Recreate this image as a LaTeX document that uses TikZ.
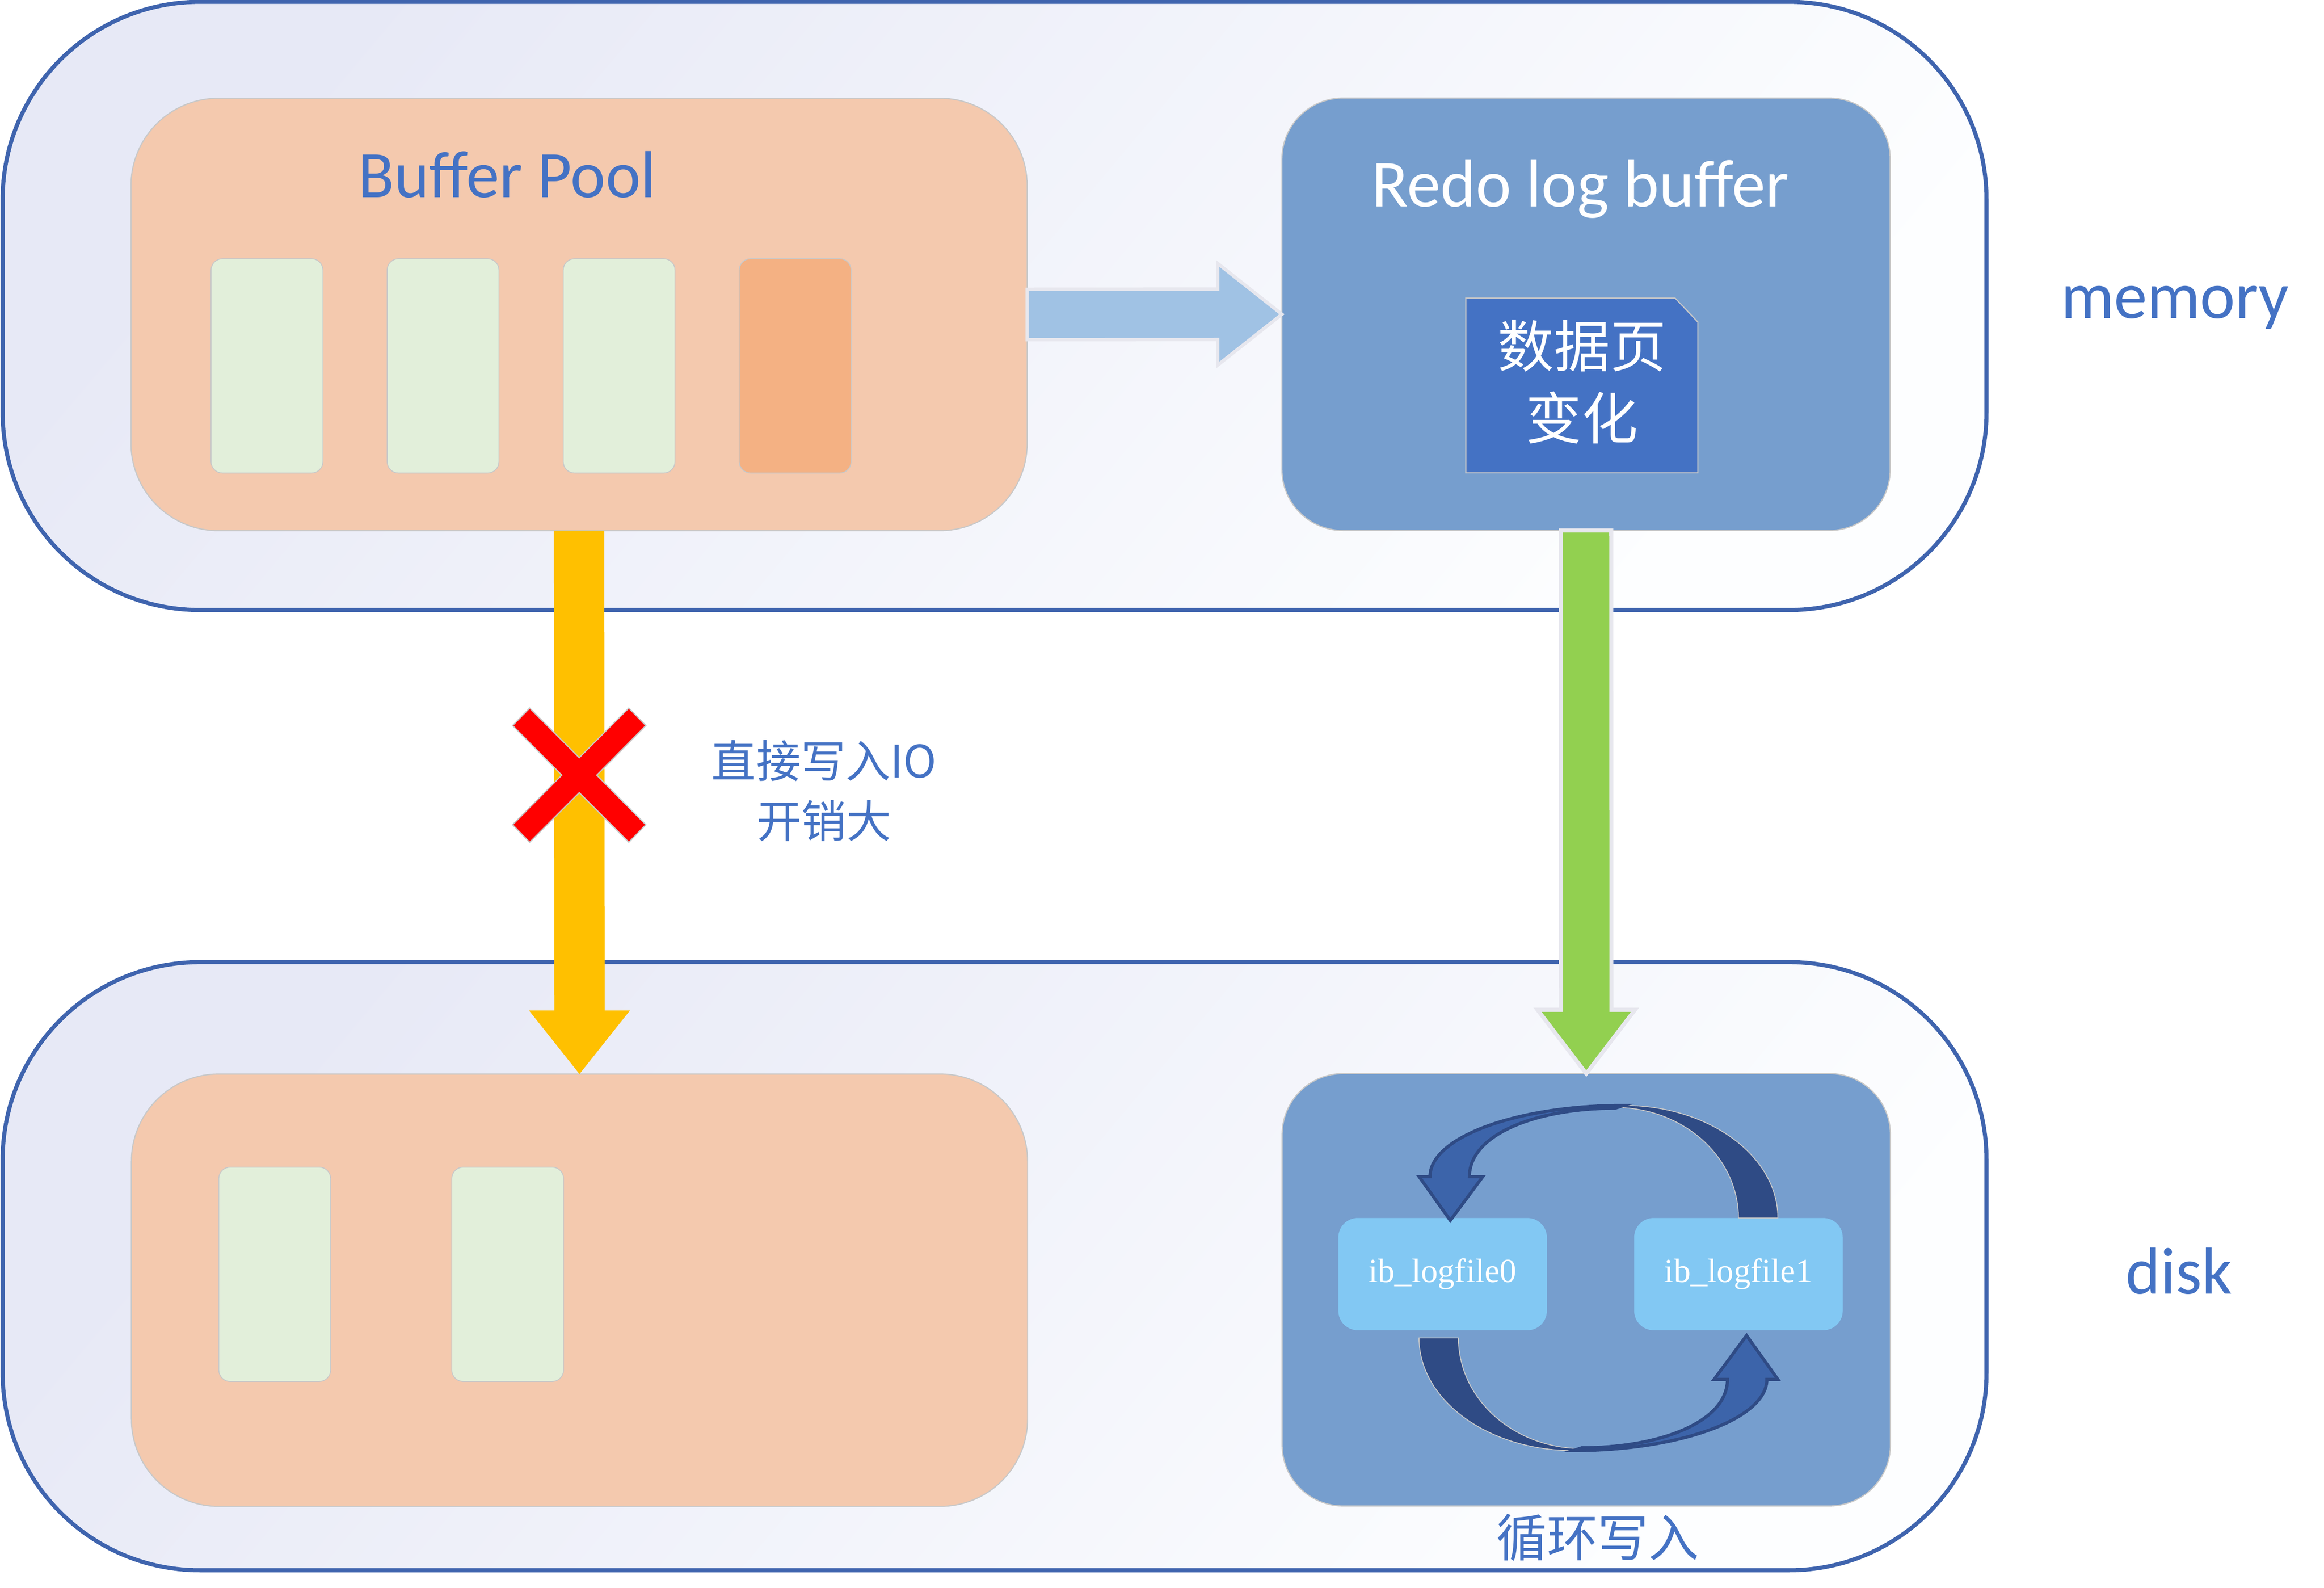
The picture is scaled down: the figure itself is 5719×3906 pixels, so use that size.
\documentclass[tikz,border=0pt]{standalone}
\usepackage{fontspec}
\setmainfont{Carlito}
\newfontfamily\cjkfont{Noto Sans CJK SC}
\newfontfamily\serffont{Liberation Serif}
\usetikzlibrary{calc}
\usetikzlibrary{positioning}

\definecolor{lineblue}{RGB}{63,100,174}
\definecolor{textblue}{RGB}{68,114,196}
\definecolor{peach}{RGB}{244,201,174}
\definecolor{pagegreen}{RGB}{226,239,218}
\definecolor{pageorange}{RGB}{244,177,131}
\definecolor{redoblue}{RGB}{118,158,206}
\definecolor{changeblue}{RGB}{68,114,196}
\definecolor{arrowblue}{RGB}{160,194,228}
\definecolor{arrowedge}{RGB}{231,231,238}
\definecolor{boxedge}{RGB}{200,200,200}
\definecolor{ioyellow}{RGB}{255,192,0}
\definecolor{loggreen}{RGB}{146,208,80}
\definecolor{fileblue}{RGB}{130,200,243}
\definecolor{loopdark}{RGB}{47,75,133}
\definecolor{looplight}{RGB}{60,100,170}
\definecolor{shadetop}{RGB}{231,233,246}
\definecolor{shadebot}{RGB}{253,254,255}

\begin{document}
\begin{tikzpicture}[x=0.01cm, y=-0.01cm, inner sep=0pt, outer sep=0pt]
    \tikzstyle{area}=[draw=lineblue, line width=2.85pt, rounded corners=4.85cm, top color=shadetop, bottom color=shadebot, shading angle=50, minimum width=48.79cm, minimum height=14.95cm]
    \tikzstyle{pool}=[draw=boxedge, line width=0.8pt, fill=peach, rounded corners=2.15cm, minimum width=22.04cm, minimum height=10.63cm]
    \tikzstyle{redo}=[draw=boxedge, line width=0.8pt, fill=redoblue, rounded corners=1.5cm, minimum width=14.96cm, minimum height=10.63cm]
    \tikzstyle{slot}=[draw=boxedge, line width=0.6pt, fill=pagegreen, rounded corners=0.28cm, minimum width=2.75cm, minimum height=5.27cm]
    \tikzstyle{logfile}=[fill=fileblue, rounded corners=0.48cm, minimum width=5.13cm, minimum height=2.76cm, text=white, font=\serffont\fontsize{23.6pt}{28pt}\selectfont]
    \tikzstyle{label}=[text=textblue, font=\fontsize{46.5pt}{55pt}\selectfont]

    \useasboundingbox (0,0) rectangle (5719,3906);

    %% memory / disk areas
    \node[area] (mem) at (2447.5,752.5) {};
    \node[area] (disk) at (2447.5,3114.5) {};
    \node[label, anchor=base] (memlbl) at (5352,783) {memory};
    \node[label, anchor=base] (disklbl) at (5362,3183) {disk};

    %% Buffer Pool
    \node[pool] (bp) at (1425,773.5) {};
    \node[label, anchor=base] (bptitle) at (1248,486) {Buffer Pool};
    \node[slot] (p1) at (657,900) {};
    \node[slot, right=1.58cm of p1] (p2) {};
    \node[slot, right=1.58cm of p2] (p3) {};
    \node[slot, right=1.58cm of p3, fill=pageorange] (p4) {};

    %% Redo log buffer
    \node[redo] (rb) at (3903,773) {};
    \node[text=white, font=\fontsize{47pt}{55pt}\selectfont, anchor=base] (rbtitle) at (3889,508) {Redo log buffer};
    \filldraw[fill=changeblue, draw=boxedge, line width=0.8pt] (3607,733) -- (4122,733) -- (4178,792) -- (4178,1163) -- (3607,1163) -- cycle;
    \node[text=white, align=center, font=\cjkfont\fontsize{39.3pt}{50.6pt}\selectfont] (chg) at (3893,939) {数据页\\变化};

    %% disk side
    \node[pool] (df) at (1426,3173.5) {};
    \node[slot] (d1) at (676,3134.5) {};
    \node[slot, right=2.98cm of d1] (d2) {};
    \node[redo] (lb) at (3903.5,3172.5) {};
    \node[logfile] (f0) at (3550,3134) {ib\_logfile0};
    \node[logfile] (f1) at (4278,3134) {ib\_logfile1};
    \node[text=textblue, font=\cjkfont\fontsize{35.5pt}{40pt}\selectfont] (cyc) at (3932,3782) {循环写入};

    %% circular writing between the two log files
    \foreach \a in {0,180} {
        \begin{scope}[rotate around={\a:(3933.5,3143.5)}]
            \filldraw[fill=loopdark, draw=boxedge, line width=0.6pt] (4278,2996) -- (4375,2996) .. controls (4375,2843) and (4205,2719) .. (3996,2719) -- (3974,2724) .. controls (4142,2724) and (4278,2846) .. (4278,2996) -- cycle;
            \filldraw[fill=looplight, draw=loopdark, line width=2.2pt] (3996,2719) .. controls (3733,2719) and (3519,2797) .. (3519,2894) -- (3492,2894) -- (3569,3002) -- (3649,2894) -- (3616,2894) .. controls (3616,2790) and (3780,2726) .. (3974,2726) -- cycle;
        \end{scope}
    }

    %% Buffer Pool -> Redo log buffer
    \filldraw[fill=arrowblue, draw=arrowedge, line width=2.3pt] ($(bp.east)+(0,-62)$) -- ($(rb.west)+(-158,-62)$) -- ($(rb.west)+(-158,-125)$) -- (rb.west) -- ($(rb.west)+(-158,125)$) -- ($(rb.west)+(-158,62)$) -- ($(bp.east)+(0,62)$) -- cycle;

    %% Buffer Pool -> disk (direct IO)
    \fill[ioyellow] ($(bp.south)+(-62,0)$) -- ($(df.north)+(-62,-156)$) -- ($(df.north)+(-124,-156)$) -- (df.north) -- ($(df.north)+(124,-156)$) -- ($(df.north)+(62,-156)$) -- ($(bp.south)+(62,0)$) -- cycle;
    \coordinate (xc) at ($(bp.south)!0.45!(df.north)$);
    \filldraw[fill=red, draw=boxedge, line width=0.8pt] ($(xc)+(-122,-165)$) -- ($(xc)+(0,-43)$) -- ($(xc)+(122,-165)$) -- ($(xc)+(164,-122)$) -- ($(xc)+(43,0)$) -- ($(xc)+(164,122)$) -- ($(xc)+(122,165)$) -- ($(xc)+(0,43)$) -- ($(xc)+(-122,165)$) -- ($(xc)+(-164,122)$) -- ($(xc)+(-43,0)$) -- ($(xc)+(-164,-122)$) -- cycle;
    \node[text=textblue, align=center, font=\cjkfont\fontsize{31.3pt}{41.8pt}\selectfont] (cost) at (2028,1945) {直接写入IO\\开销大};

    %% Redo log buffer -> log files
    \filldraw[fill=loggreen, draw=arrowedge, line width=2.8pt] ($(rb.south)+(-62,0)$) -- ($(lb.north)+(-62,-157)$) -- ($(lb.north)+(-120,-157)$) -- (lb.north) -- ($(lb.north)+(120,-157)$) -- ($(lb.north)+(62,-157)$) -- ($(rb.south)+(62,0)$) -- cycle;
\end{tikzpicture}
\end{document}
